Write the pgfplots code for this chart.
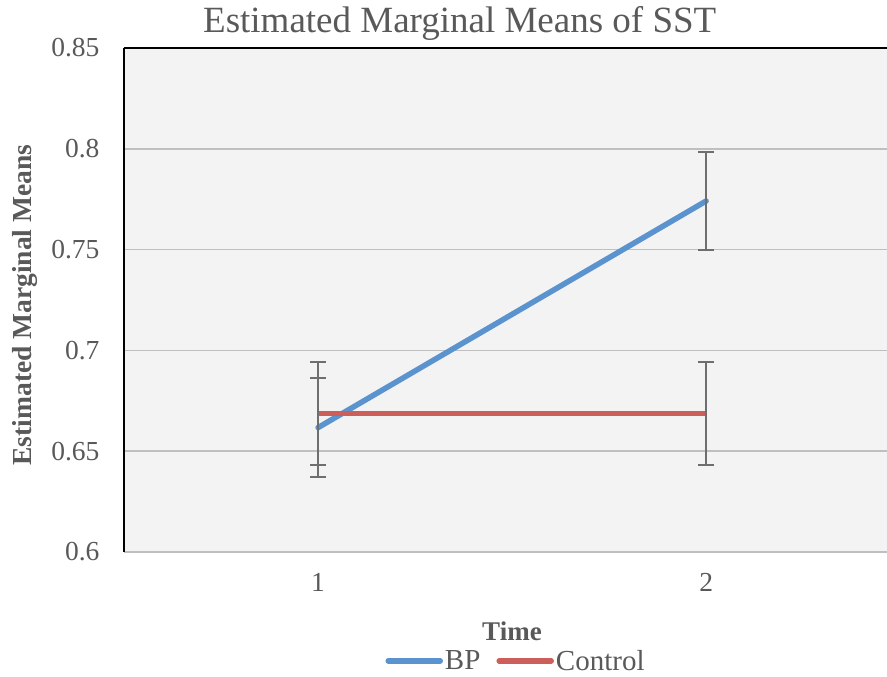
\documentclass[border=0pt]{standalone}
\usepackage{fontspec}
\setmainfont{Liberation Serif}
\usepackage{pgfplots}
\pgfplotsset{compat=1.18}
\definecolor{txt}{HTML}{595959}
\definecolor{bpblue}{HTML}{5B93CF}
\definecolor{ctred}{HTML}{CD5F5A}
\definecolor{bg}{HTML}{F3F3F3}
\definecolor{gridc}{HTML}{BFBFBF}
\definecolor{errc}{HTML}{6E6E6E}
\begin{document}
\begin{tikzpicture}[x=1pt,y=1pt]
\useasboundingbox (0,0) rectangle (887,677);
\begin{axis}[
  at={(124pt,125pt)}, anchor=south west,
  scale only axis, width=763pt, height=504pt,
  xmin=0.5, xmax=2.466, ymin=0.6, ymax=0.85,
  xtick={1,2}, ytick={0.6,0.65,0.7,0.75,0.8,0.85},
  yticklabels={0.6,0.65,0.7,0.75,0.8,0.85},
  xticklabels={1,2},
  tick style={draw=none},
  axis background/.style={fill=bg},
  ymajorgrids, grid style={gridc, line width=1.5pt},
  axis line style={line width=1.5pt},
  axis x line*=bottom, axis y line*=left,
  x axis line style={draw=gridc, -},
  y axis line style={draw=black, -},
  every tick label/.append style={font=\fontsize{27.5}{31}\selectfont, text=txt},
  yticklabel style={xshift=-21pt},
  xticklabel style={yshift=-18pt},
  title={Estimated Marginal Means of SST},
  title style={font=\fontsize{37}{41}\selectfont, text=txt, at={(rel axis cs:0.44,1.037)}, anchor=center},
  xlabel={\bfseries Time},
  xlabel style={font=\fontsize{27}{30}\selectfont, text=txt, at={(rel axis cs:0.5085,-0.157)}, anchor=center},
  ylabel={\bfseries Estimated Marginal Means},
  ylabel style={font=\fontsize{27.5}{30}\selectfont, text=txt, at={(rel axis cs:-0.13,0.49)}, anchor=center, rotate=0},
  legend columns=2,
  legend style={draw=none, fill=none, font=\fontsize{29}{32}\selectfont, text=txt,
    at={(rel axis cs:0.5138,-0.216)}, anchor=center,
    /tikz/every even column/.append style={column sep=14pt},
    inner sep=0pt, cells={anchor=west}},
  legend image code/.code={\draw[#1, line cap=round] (0pt,0pt) -- (52pt,0pt);},
  clip=false,
]
\draw[black, line width=1.5pt] (rel axis cs:0,1) -- (rel axis cs:1,1);
\addplot[bpblue, line width=5.5pt, line cap=round, no markers,
  error bars/.cd, y dir=both, y explicit,
  error bar style={errc, line width=2pt, line cap=butt},
  error mark options={errc, line width=2pt, mark size=8pt, rotate=90}]
  coordinates {(1,0.6617) +- (0,0.0245) (2,0.7741) +- (0,0.0245)};
\addlegendentry{BP}
\addplot[ctred, line width=5.5pt, line cap=butt, no markers,
  error bars/.cd, y dir=both, y explicit,
  error bar style={errc, line width=2pt, line cap=butt},
  error mark options={errc, line width=2pt, mark size=8pt, rotate=90}]
  coordinates {(1,0.6688) +- (0,0.0256) (2,0.6688) +- (0,0.0256)};
\addlegendentry{Control}
\end{axis}
\end{tikzpicture}
\end{document}
